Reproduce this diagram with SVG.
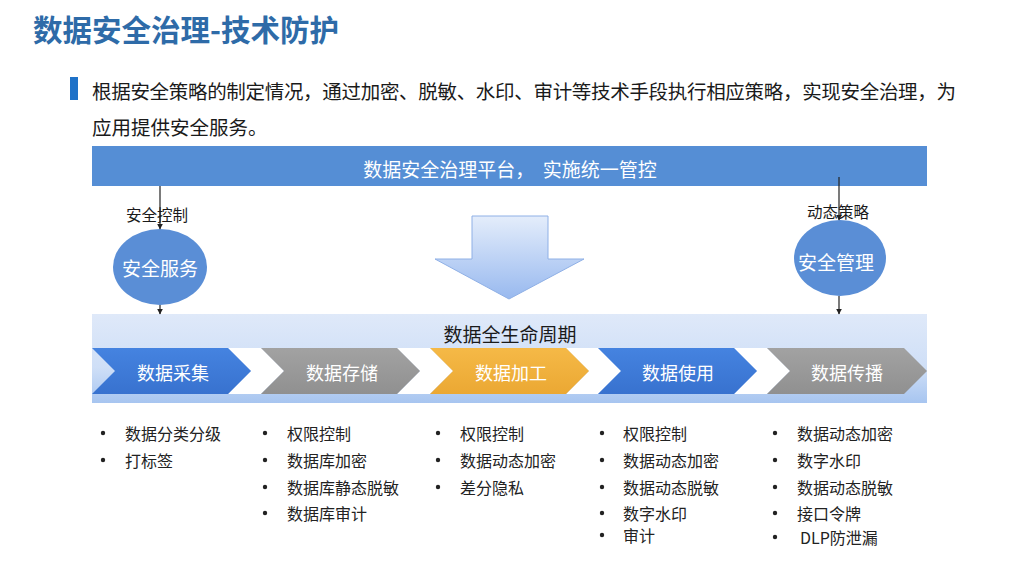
<svg xmlns="http://www.w3.org/2000/svg" width="1024" height="576" viewBox="0 0 1024 576">
<defs>
<style>
text{font-family:"Microsoft YaHei","Noto Sans CJK SC","Noto Sans",sans-serif;}
.w{fill:#ffffff;}
.k{fill:#1a1a1a;}
.ch{font-size:18px;fill:#ffffff;text-anchor:middle;dominant-baseline:central;}
.li{font-size:16px;fill:#222222;dominant-baseline:central;}
.bu{fill:#222222;}
.conn{stroke:#222222;stroke-width:1.2;fill:none;marker-end:url(#ah);}
</style>
<marker id="ah" viewBox="0 0 10 10" refX="9" refY="5" markerWidth="6" markerHeight="6" orient="auto" markerUnits="userSpaceOnUse">
<path d="M0,0 L10,5 L0,10 z" fill="#222222"/>
</marker>
<linearGradient id="band" x1="0" y1="0" x2="0" y2="1">
<stop offset="0" stop-color="#DFE9F9"/>
<stop offset="0.6" stop-color="#CFDFF7"/>
<stop offset="1" stop-color="#A7C5F0"/>
</linearGradient>
<linearGradient id="arrowG" x1="0" y1="0" x2="0" y2="1">
<stop offset="0" stop-color="#E4EDFB"/>
<stop offset="1" stop-color="#98B9EF"/>
</linearGradient>
<linearGradient id="blueG" x1="0" y1="0" x2="0" y2="1">
<stop offset="0" stop-color="#4583E0"/>
<stop offset="1" stop-color="#3872CF"/>
</linearGradient>
<linearGradient id="grayG" x1="0" y1="0" x2="0" y2="1">
<stop offset="0" stop-color="#A2A2A2"/>
<stop offset="1" stop-color="#909090"/>
</linearGradient>
<linearGradient id="orG" x1="0" y1="0" x2="0" y2="1">
<stop offset="0" stop-color="#F5B947"/>
<stop offset="1" stop-color="#EBA833"/>
</linearGradient>
</defs>
<rect width="1024" height="576" fill="#ffffff"/>

<g id="title">
<text x="33" y="28" font-size="29.5" font-weight="bold" fill="#2E6BA8" dominant-baseline="central">数据安全治理-技术防护</text>
</g>

<g id="intro">
<rect x="70" y="77" width="8" height="23" fill="#1F72C8"/>
<text x="92" y="90" font-size="19.5" class="k" dominant-baseline="central" textLength="864" lengthAdjust="spacing">根据安全策略的制定情况，通过加密、脱敏、水印、审计等技术手段执行相应策略，实现安全治理，为</text>
<text x="92" y="126" font-size="19.5" class="k" dominant-baseline="central">应用提供安全服务。</text>
</g>

<g id="platform">
<rect x="92" y="146" width="835" height="40" fill="#558ED5"/>
<text x="510" y="168" font-size="19" class="w" text-anchor="middle" dominant-baseline="central" xml:space="preserve">数据安全治理平台，  实施统一管控</text>
</g>

<g id="bigArrow">
<path d="M472,216 L548,216 L548,259 L584,259 L509,299 L435,259 L472,259 Z" fill="url(#arrowG)" stroke="#8FB0E6" stroke-width="1"/>
</g>

<g id="service">
<ellipse cx="160" cy="267" rx="47" ry="38" fill="#5A8ED6"/>
<text x="160" y="267" font-size="19" class="w" text-anchor="middle" dominant-baseline="central">安全服务</text>
</g>

<g id="management">
<ellipse cx="840" cy="258" rx="46" ry="38" fill="#5A8ED6"/>
<text x="836" y="261" font-size="19" class="w" text-anchor="middle" dominant-baseline="central">安全管理</text>
</g>

<g id="lifecycle">
<rect x="92" y="314" width="835" height="89" fill="url(#band)"/>
<text x="510" y="333" font-size="19" class="k" text-anchor="middle" dominant-baseline="central">数据全生命周期</text>
<path d="M228,348 L261,348 L284,371 L261,394 L228,394 L251,371 Z" fill="#ffffff"/>
<path d="M397,348 L430,348 L453,371 L430,394 L397,394 L420,371 Z" fill="#ffffff"/>
<path d="M566,348 L598,348 L621,371 L598,394 L566,394 L589,371 Z" fill="#ffffff"/>
<path d="M734,348 L767,348 L790,371 L767,394 L734,394 L757,371 Z" fill="#ffffff"/>
</g>

<g id="stage1">
<path d="M92,348 L228,348 L251,371 L228,394 L92,394 L115,371 Z" fill="url(#blueG)"/>
<text x="173" y="372" class="ch">数据采集</text>
</g>
<g id="stage2">
<path d="M261,348 L397,348 L420,371 L397,394 L261,394 L284,371 Z" fill="url(#grayG)"/>
<text x="342" y="372" class="ch">数据存储</text>
</g>
<g id="stage3">
<path d="M430,348 L566,348 L589,371 L566,394 L430,394 L453,371 Z" fill="url(#orG)"/>
<text x="511" y="372" class="ch">数据加工</text>
</g>
<g id="stage4">
<path d="M598,348 L734,348 L757,371 L734,394 L598,394 L621,371 Z" fill="url(#blueG)"/>
<text x="678" y="372" class="ch">数据使用</text>
</g>
<g id="stage5">
<path d="M767,348 L904,348 L927,371 L904,394 L767,394 L790,371 Z" fill="url(#grayG)"/>
<text x="847" y="372" class="ch">数据传播</text>
</g>

<g id="connectors">
<line x1="160" y1="186" x2="160" y2="229" class="conn"/>
<line x1="160" y1="305" x2="160" y2="314" class="conn"/>
<line x1="839" y1="177" x2="839" y2="220" class="conn"/>
<line x1="839" y1="296" x2="839" y2="314" class="conn"/>
<text x="157" y="214" font-size="15.5" class="k" text-anchor="middle" dominant-baseline="central">安全控制</text>
<text x="838" y="211" font-size="15.5" class="k" text-anchor="middle" dominant-baseline="central">动态策略</text>
</g>

<g id="list1">
<circle cx="103" cy="433" r="2.2" class="bu"/><text x="125" y="433" class="li">数据分类分级</text>
<circle cx="103" cy="460" r="2.2" class="bu"/><text x="125" y="460" class="li">打标签</text>
</g>
<g id="list2">
<circle cx="265" cy="433" r="2.2" class="bu"/><text x="287" y="433" class="li">权限控制</text>
<circle cx="265" cy="460" r="2.2" class="bu"/><text x="287" y="460" class="li">数据库加密</text>
<circle cx="265" cy="487" r="2.2" class="bu"/><text x="287" y="487" class="li">数据库静态脱敏</text>
<circle cx="265" cy="513" r="2.2" class="bu"/><text x="287" y="513" class="li">数据库审计</text>
</g>
<g id="list3">
<circle cx="438" cy="433" r="2.2" class="bu"/><text x="460" y="433" class="li">权限控制</text>
<circle cx="438" cy="460" r="2.2" class="bu"/><text x="460" y="460" class="li">数据动态加密</text>
<circle cx="438" cy="487" r="2.2" class="bu"/><text x="460" y="487" class="li">差分隐私</text>
</g>
<g id="list4">
<circle cx="602" cy="433" r="2.2" class="bu"/><text x="623" y="433" class="li">权限控制</text>
<circle cx="602" cy="460" r="2.2" class="bu"/><text x="623" y="460" class="li">数据动态加密</text>
<circle cx="602" cy="487" r="2.2" class="bu"/><text x="623" y="487" class="li">数据动态脱敏</text>
<circle cx="602" cy="513" r="2.2" class="bu"/><text x="623" y="513" class="li">数字水印</text>
<circle cx="602" cy="535" r="2.2" class="bu"/><text x="623" y="535" class="li">审计</text>
</g>
<g id="list5">
<circle cx="775" cy="433" r="2.2" class="bu"/><text x="797" y="433" class="li">数据动态加密</text>
<circle cx="775" cy="460" r="2.2" class="bu"/><text x="797" y="460" class="li">数字水印</text>
<circle cx="775" cy="487" r="2.2" class="bu"/><text x="797" y="487" class="li">数据动态脱敏</text>
<circle cx="775" cy="513" r="2.2" class="bu"/><text x="797" y="513" class="li">接口令牌</text>
<circle cx="775" cy="537" r="2.2" class="bu"/><text x="800" y="537" class="li">DLP防泄漏</text>
</g>
</svg>
